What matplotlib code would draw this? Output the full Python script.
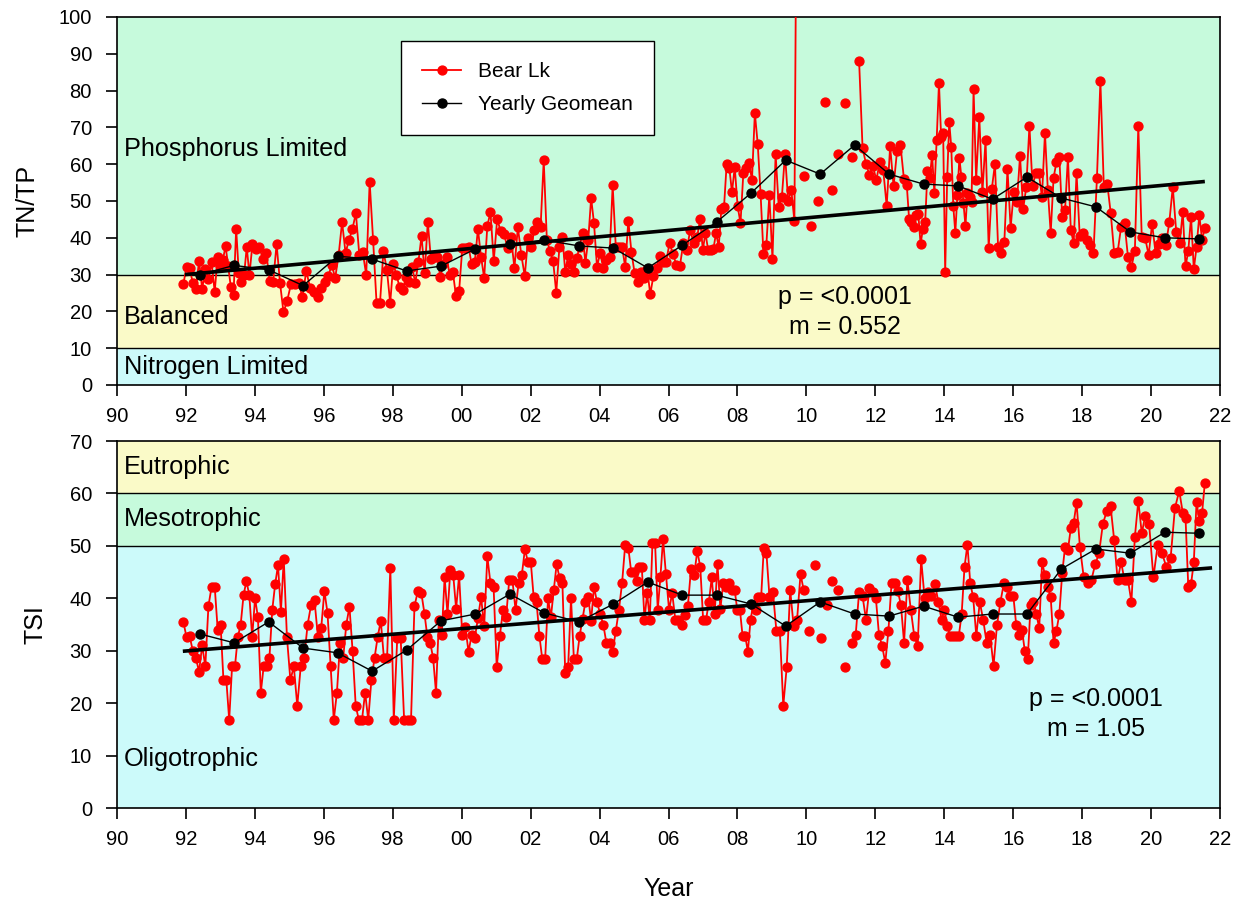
import numpy as np
import matplotlib
matplotlib.use('Agg')
import matplotlib.pyplot as plt

plt.rcParams['font.family'] = ['Liberation Sans', 'DejaVu Sans']

nan = np.nan
years = list(range(1992, 2022))

# TN/TP samples per year (NaN = gap in the sampled record)
tntp_by_year = [
    [27.4, 32.1, 31.8, 27.7, 26.1, 33.7, 26.1, 31.5, 28.8, 33.4, 25.3],
    [34.8, 32.3, 34.0, 37.8, 32.3, 26.6, 24.5, 42.4, 30.4, 28.0, 30.0, 37.5, 29.9],
    [38.3, 37.0, 37.5, 34.2, 35.9, 28.3, 28.0, 38.3, 27.7, 19.8],
    [22.8, 27.4, 27.5, 27.7, 23.9, 31.0, 26.4, 25.3, 23.9],
    [26.4, 28.0, 29.6, 32.6, 29.1, 35.3, 44.3, 35.9, 39.4, 42.4],
    [46.7, 35.3, 36.1, 29.9, 55.2, 39.4, 22.3, 22.3, 36.4, 31.3],
    [22.3, 32.9, 29.9, 26.6, 25.8, 29.3, 28.0, 32.1, 27.7, 33.4, 40.5],
    [30.4, 44.3, 34.2, 34.8, 34.8, 29.3, 33.0, 34.8, 29.9, 30.7, 24.2],
    [25.5, 37.2, 37.2, 37.5, 32.9, 33.4, 42.4, 34.8, 29.1, 43.2, 47.0],
    [33.7, 45.1, 41.8, 41.0, 37.2, 40.2, 31.8, 42.9, 35.3, 29.6],
    [39.9, 37.5, 42.1, 44.3, 42.9, 61.1, 39.4, 36.4, 33.7, 25.0, 37.5],
    [40.2, 30.7, 35.3, 32.9, 30.7, 34.5, 37.5, 41.3, 33.2, 39.4, 50.8, 44.0],
    [32.1, 35.9, 31.8, 34.0, 34.8, 54.3, 37.5, 37.5, 37.5, 32.1, 44.6],
    [36.1, 30.4, 28.0, 30.7, 29.1, 31.5, 24.7, 29.6, 31.8, 35.1, 33.4],
    [33.4, 38.6, 35.6, 32.6, 32.3, 38.6, 36.7, 42.1, 38.6, 40.2],
    [45.1, 36.7, 41.3, 36.7, 36.7, 37.0, 41.3, 37.5, 47.8, 48.4, 60.1, 59.0, 52.4],
    [59.2, 48.6, 44.0, 57.6, 59.0, 60.3, 55.7, 73.9, 65.5, 51.9, 35.6, 38.0],
    [51.6, 34.2, 62.8, 48.4, 51.1, 62.8, 50.0, 53.0, 44.6, 180.0, nan],
    [56.8, nan, 43.2, nan, 50.0, nan, 76.9, nan, 53.0, nan],
    [62.8, nan, 76.6, nan, 62.0, nan, 88.0, 64.4, 60.1, 57.1],
    [59.5, 55.7, 60.6, 58.4, 48.6, 64.9, 54.0, 63.6, 65.2, 56.0],
    [54.3, 45.1, 44.3, 42.9, 46.2, 46.5, 38.3, 42.4, 44.3, 58.2, 56.3, 62.5, 52.2, 66.6, 82.1],
    [67.4, 68.5, 30.7, 56.5, 71.5, 64.7, 48.6, 41.3, 51.6, 61.7, 56.5, 49.5, 43.2, 52.2, 51.1, 49.7, 80.4],
    [55.7, 72.8, 52.4, 66.6, 37.2, 53.3, 60.1, 37.5, 35.9, 38.9, 58.7],
    [42.7, 52.4, 49.7, 62.2, 47.8, 53.8, 70.4, 54.0, 57.6, 57.6, 51.1],
    [68.5, 53.0, 41.3, 56.3, 60.6, 62.0, 45.7, 47.6, 62.0, 42.1, 38.6, 57.6],
    [40.5, 41.3, 39.4, 38.0, 35.9, 56.3, 82.6, 53.8, 54.6, 46.7],
    [35.9, 36.1, 42.9, 44.0, 34.8, 32.1, 36.4, 70.4, 40.2, 39.9],
    [35.3, 43.8, 35.9, 38.3, 40.0, 38.0, 44.3, 53.8, 41.6, 38.6],
    [47.0, 32.3, 36.4, 45.7, 31.5, 37.5, 46.2, 39.4, 42.7],
]

# TSI samples per year
tsi_by_year = [
    [35.5, 32.6, 32.8, 30.0, 28.6, 26.0, 31.0, 27.0, 38.5, 42.2, 42.2],
    [34.0, 35.0, 24.4, 24.4, 16.8, 27.0, 27.0, 32.6, 35.0, 40.6, 43.3, 40.6],
    [32.6, 40.0, 36.4, 22.0, 27.0, 27.0, 28.6, 37.8, 42.7, 46.3, 37.4, 47.5],
    [32.6, 24.4, 27.0, 19.5, 27.0, 28.6, 35.0, 38.7, 39.6, 32.6],
    [34.4, 41.4, 37.2, 27.0, 16.8, 22.0, 31.5, 28.6, 35.0, 38.4, 30.0],
    [19.5, 16.8, 16.8, 22.0, 16.8, 24.4, 28.6, 32.6, 35.7, 28.6, 28.6],
    [45.8, 16.8, 32.4, 32.4, 16.8, 16.8, 16.8, 38.5, 41.4, 41.0],
    [37.0, 32.6, 31.5, 28.6, 22.0, 35.9, 33.0, 44.0, 37.0, 45.4, 44.4, 38.0],
    [44.4, 33.0, 34.5, 29.8, 33.0, 32.4, 36.2, 40.2, 34.7, 48.0, 42.9],
    [42.2, 26.9, 32.8, 37.8, 36.5, 43.5, 43.5, 37.8, 43.0, 44.4, 49.4],
    [46.9, 46.9, 40.2, 39.3, 32.8, 28.4, 28.4, 40.0, 36.4, 41.6, 46.5, 43.9],
    [42.9, 25.7, 26.9, 40.0, 28.4, 28.4, 32.8, 36.0, 39.3, 40.2, 35.7, 42.2],
    [39.3, 37.0, 35.0, 31.5, 31.5, 29.8, 33.8, 37.8, 42.9, 50.2, 49.6],
    [45.0, 45.0, 43.3, 45.9, 45.9, 35.9, 41.0, 35.9, 50.5, 50.5, 37.8, 44.0, 51.3],
    [44.6, 37.8, 41.0, 35.9, 35.9, 35.0, 36.9, 38.5, 45.6, 44.4, 49.0],
    [46.0, 35.9, 35.9, 39.3, 44.0, 37.0, 46.5, 38.0, 42.9, 42.2, 42.9, 41.6],
    [41.6, 37.8, 37.8, 32.8, 32.8, 29.8, 35.9, 38.7, 37.8, 40.2, 40.2, 49.6, 48.6],
    [40.2, 41.2, 33.8, 33.8, 19.5, 26.9, 41.6, 34.7, 35.9, 44.6],
    [41.6, nan, 33.8, nan, 46.3, nan, 32.4, nan, 38.7, nan, 43.3, nan],
    [41.6, nan, 26.9, nan, 31.5, 33.0, 41.2, 40.4, 35.9, 42.0],
    [41.2, 40.0, 33.0, 30.9, 27.7, 33.8, 42.9, 42.9, 41.4, 38.7, 31.5],
    [43.5, 37.8, 32.8, 30.9, 47.5, 40.0, 41.2, 40.4, 42.7, 39.3],
    [35.9, 37.8, 34.7, 32.8, 32.8, 32.8, 32.8, 37.0, 46.0, 50.2, 42.9, 40.2],
    [32.8, 39.3, 35.9, 31.5, 33.0, 27.1, 34.9, 39.3, 42.9, 42.2],
    [40.4, 40.4, 34.9, 33.0, 34.0, 29.9, 28.4, 38.7, 39.3, 37.0, 34.3, 46.9],
    [44.4, 42.2, 40.2, 31.5, 33.8, 37.0, 44.8, 49.8, 49.2, 53.4, 54.4, 58.2],
    [49.8, 44.0, 42.9, 43.5, 46.5, 48.6, 54.2, 56.6, 57.6],
    [51.1, 43.5, 46.9, 43.5, 43.5, 39.3, 51.7, 58.6, 52.4, 55.7],
    [54.2, 44.0, 50.2, 48.6, 46.0, 47.7, 57.2, 60.5],
    [56.3, 55.3, 42.2, 42.7, 46.9, 58.4, 54.7, 56.3, 62.0],
]

tntp_geomean = [30.0, 32.5, 31.3, 27.0, 35.0, 34.2, 31.0, 32.3, 37.0, 38.3,
                39.4, 37.8, 37.2, 31.8, 38.0, 44.3, 52.2, 61.1, 57.3, 65.2,
                57.3, 54.6, 54.1, 50.5, 56.5, 50.8, 48.4, 41.6, 40.0, 39.7]
tsi_geomean = [33.2, 31.5, 35.5, 30.5, 29.6, 26.1, 30.1, 35.7, 37.0, 40.8,
               37.2, 35.5, 38.9, 43.1, 40.6, 40.6, 38.9, 34.7, 39.3, 37.0,
               36.6, 38.5, 36.4, 37.0, 37.0, 45.6, 49.4, 48.6, 52.6, 52.4]

tntp_trend_x = [1991.97, 2021.56]
tntp_trend_y = [30.0, 55.3]
tsi_trend_x = [1991.91, 2021.77]
tsi_trend_y = [29.9, 45.8]

tntp_bands = [(0, 10, '#CCFAFA', 'Nitrogen Limited', 4.9),
              (10, 30, '#FAFAC8', 'Balanced', 18.5),
              (30, 100, '#C6FADC', 'Phosphorus Limited', 64.0)]
tsi_bands = [(0, 50, '#CCFAFA', 'Oligotrophic', 9.3),
             (50, 60, '#C6FADC', 'Mesotrophic', 55.1),
             (60, 70, '#FAFAC8', 'Eutrophic', 65.0)]


def expand(by_year):
    xs, ys = [], []
    for yr, vals in zip(years, by_year):
        n = len(vals)
        span = 0.72 if yr == years[-1] else 1.0
        for i, v in enumerate(vals):
            xs.append(yr - 0.12 + (i + 0.5) * span / n)
            ys.append(v)
    return np.array(xs), np.array(ys)


W, H = 1234, 899
fig = plt.figure(figsize=(W / 100, H / 100), dpi=100)
ax1 = fig.add_axes([117 / W, 1 - 385 / H, (1220 - 117) / W, (385 - 17) / H])
ax2 = fig.add_axes([117 / W, 1 - 808 / H, (1220 - 117) / W, (808 - 441) / H])

geo_x = np.array(years) + 0.4


def panel(ax, by_year, geo, tx, ty, bands, ymax, ystep, ylabel, ptxt, pxy):
    for lo, hi, col, lab, ly in bands:
        ax.axhspan(lo, hi, color=col, zorder=0, lw=0)
        if lo > 0:
            ax.axhline(lo, color='black', lw=1.0, zorder=1)
        ax.text(0.006, ly, lab, transform=ax.get_yaxis_transform(),
                fontsize=18.2, va='center', ha='left', zorder=2)
    xs, ys = expand(by_year)
    ax.plot(xs, ys, color='#FF0000', lw=1.3, marker='o', ms=6.4,
            mfc='#FF0000', mec='#FF0000', zorder=3, label='Bear Lk')
    ax.plot(tx, ty, color='black', lw=2.6, zorder=4, solid_capstyle='butt')
    ax.plot(geo_x, geo, color='black', lw=1.0, marker='o', ms=6.5,
            zorder=5, label='Yearly Geomean')
    ax.set_xlim(1990, 2022)
    ax.set_ylim(0, ymax)
    xt = np.arange(1990, 2023, 2)
    ax.set_xticks(xt)
    ax.set_xticklabels([f"{t % 100:02d}" for t in xt])
    ax.set_yticks(np.arange(0, ymax + 1, ystep))
    ax.tick_params(direction='out', length=8, width=1.2, labelsize=14.5)
    ax.tick_params(axis='y', pad=10)
    ax.tick_params(axis='x', pad=8)
    for s in ax.spines.values():
        s.set_linewidth(1.2)
    ax.set_ylabel(ylabel, fontsize=18)
    ax.text(pxy[0], pxy[1], ptxt, transform=ax.transAxes, fontsize=18,
            ha='center', va='center', linespacing=1.3, zorder=6)


panel(ax1, tntp_by_year, tntp_geomean, tntp_trend_x, tntp_trend_y,
      tntp_bands, 100, 10, 'TN/TP', 'p = <0.0001\nm = 0.552',
      ((845 - 117) / 1103, (385 - 312) / 368))
panel(ax2, tsi_by_year, tsi_geomean, tsi_trend_x, tsi_trend_y,
      tsi_bands, 70, 10, 'TSI', 'p = <0.0001\nm = 1.05',
      ((1096 - 117) / 1103, (808 - 714) / 367))

ax1.yaxis.set_label_coords(-0.0705, 0.5)
ax2.yaxis.set_label_coords(-0.063, 0.5)
ax2.set_xlabel('Year', fontsize=18, labelpad=20)

leg = ax1.legend(loc='upper left', bbox_to_anchor=((401 - 117) / 1103, (385 - 41) / 368),
                 fontsize=15, frameon=True, fancybox=False, edgecolor='black',
                 framealpha=1, borderpad=1.0, handlelength=1.9, handletextpad=0.8,
                 labelspacing=0.7, borderaxespad=0)
leg.get_frame().set_linewidth(1.0)

fig.savefig('out.png', dpi=100)
